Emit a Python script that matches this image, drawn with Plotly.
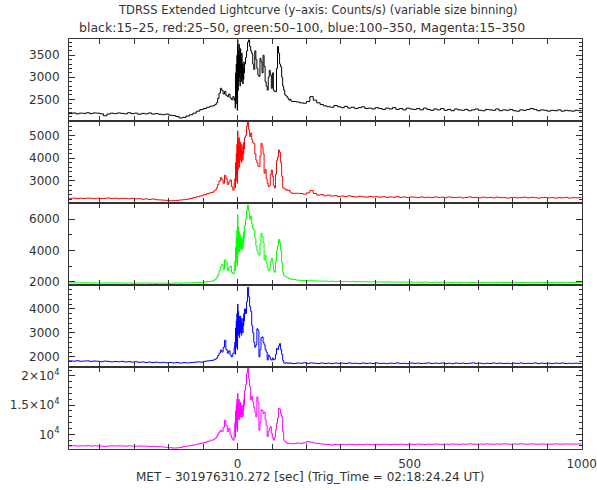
import plotly.graph_objects as go

# ---- time grid (variable size binning) ----
time_s = (list(range(-490, -69, 10)) + list(range(-66, -9, 4)) +
          list(range(-8, 21, 1)) + list(range(23, 159, 3)) +
          list(range(170, 1001, 10)))

black_15_25 = [
    2175, 2190, 2170, 2185, 2180, 2195, 2175, 2190, 2185, 2170,
    2125, 2165, 2185, 2175, 2190, 2180, 2170, 2195, 2175, 2185,
    2160, 2180, 2170, 2190, 2165, 2175, 2160, 2150, 2165, 2140,
    2130, 2110, 2075, 2090, 2120, 2150, 2185, 2230, 2265, 2290,
    2320, 2345, 2360,
    2380, 2420, 2520, 2640, 2750, 2700, 2620, 2680, 2590, 2560, 2620, 2530, 2490, 2560, 2470,
    2520, 2300, 3100, 2400, 3300, 2600, 3500, 2250,
    3850, 2700, 3600, 2900, 3750, 3000, 3500, 2800, 3650, 3100, 3400,
    2900, 3550, 3000, 3300, 2850, 3200, 2950, 3350, 3100, 3300,
    3450, 3600, 3800, 3850, 3700, 3600, 3540, 3300, 3180, 3600,
    3400, 3200, 3050, 3020, 3430, 3350, 3100, 3500, 3250, 2900,
    2800, 2710, 3000, 3160, 3050, 2750, 3100, 2700, 2680, 2670,
    3200, 3700, 3550, 3300, 3240, 3000, 2800, 2710, 2600, 2580,
    2560, 2520, 2480, 2500, 2460, 2450,
    2440, 2420, 2410, 2450, 2560, 2480, 2420, 2380, 2350, 2330,
    2320, 2360, 2330, 2310, 2340, 2300, 2320, 2290, 2310, 2330,
    2290, 2300, 2280, 2310, 2290, 2270, 2300, 2280, 2310, 2270,
    2290, 2260, 2300, 2280, 2270, 2290, 2260, 2300, 2270, 2250,
    2280, 2260, 2290, 2250, 2270, 2240, 2280, 2260, 2250, 2270,
    2240, 2260, 2280, 2250, 2240, 2270, 2260, 2250, 2280, 2240,
    2260, 2250, 2270, 2240, 2230, 2260, 2250, 2270, 2290, 2270,
    2240, 2260, 2250, 2230, 2250, 2240, 2260, 2230, 2250, 2240,
    2230, 2250, 2240, 2250,
]

red_25_50 = [
    2240, 2250, 2230, 2245, 2235, 2250, 2240, 2225, 2245, 2230,
    2240, 2255, 2230, 2245, 2225, 2240, 2230, 2220, 2240, 2215,
    2225, 2200, 2215, 2190, 2210, 2180, 2170, 2160, 2150, 2135,
    2140, 2150, 2165, 2180, 2200, 2230, 2270, 2310, 2350, 2400,
    2450, 2500, 2560,
    2600, 2700, 2850, 3000, 3150, 3050, 2900, 3250, 3100, 2850, 2950, 3050, 2750, 2600, 2900,
    3100, 2700, 3800, 3000, 4200, 3200, 4600, 2900,
    5200, 3500, 4800, 3800, 4900, 3600, 4500, 3900, 4700, 4000, 4400,
    3800, 4600, 4100, 4300, 3900, 4500, 4200, 4700, 4400, 4900,
    5000, 5400, 5600, 5250, 4950, 5100, 4800, 4680, 4650, 4200,
    3920, 3800, 3650, 3630, 4100, 4650, 4500, 4200, 3340, 3500,
    3100, 2900, 2750, 2800, 3300, 3480, 3200, 2800, 2700, 3300,
    3900, 4050, 4360, 4250, 3800, 3200, 2700, 2680, 2650, 2600,
    2620, 2580, 2600, 2520, 2480, 2460,
    2460, 2450, 2420, 2480, 2580, 2450, 2380, 2400, 2350, 2380,
    2340, 2360, 2320, 2340, 2310, 2350, 2320, 2300, 2330, 2310,
    2290, 2320, 2300, 2310, 2290, 2310, 2280, 2300, 2290, 2310,
    2280, 2300, 2270, 2300, 2290, 2270, 2300, 2280, 2290, 2270,
    2300, 2280, 2290, 2270, 2300, 2280, 2270, 2290, 2260, 2280,
    2300, 2270, 2280, 2260, 2290, 2270, 2280, 2260, 2290, 2270,
    2280, 2250, 2270, 2280, 2260, 2270, 2290, 2260, 2280, 2270,
    2250, 2270, 2280, 2260, 2270, 2250, 2270, 2260, 2280, 2250,
    2270, 2260, 2270, 2260,
]

green_50_100 = [
    1920, 1930, 1915, 1925, 1920, 1935, 1915, 1925, 1920, 1910,
    1925, 1915, 1930, 1910, 1920, 1915, 1905, 1920, 1910, 1900,
    1915, 1905, 1920, 1900, 1910, 1895, 1915, 1900, 1910, 1895,
    1905, 1920, 1900, 1915, 1930, 1920, 1940, 1960, 1950, 1980,
    2000, 2030, 2080,
    2150, 2250, 2400, 2700, 2950, 3100, 2800, 3400, 3250, 2700, 2900, 3000, 2600, 2500, 2900,
    3300, 2700, 4200, 3200, 4800, 3500, 5300, 3000,
    6300, 3800, 5500, 4200, 5200, 3900, 4800, 4100, 5000, 4300, 4700,
    4000, 4800, 4300, 4600, 4100, 4900, 4500, 5200, 4800, 5600,
    6000, 6600, 6900, 6500, 6000, 6200, 5700, 5400, 5300, 4800,
    4300, 4000, 3800, 3700, 4400, 5100, 4900, 4500, 3400, 3700,
    3200, 2900, 2700, 2800, 3300, 3500, 3200, 2700, 2600, 3300,
    4000, 4300, 4700, 4500, 4000, 3200, 2600, 2400, 2350, 2300,
    2280, 2250, 2200, 2180, 2150, 2130,
    2100, 2080, 2070, 2060, 2090, 2050, 2040, 2030, 2040, 2020,
    2030, 2010, 2020, 2000, 2015, 1995, 2010, 1990, 2000, 1985,
    2000, 1980, 1995, 1975, 1990, 1970, 1985, 1975, 1965, 1980,
    1960, 1975, 1965, 1980, 1960, 1970, 1955, 1975, 1960, 1950,
    1970, 1955, 1965, 1950, 1960, 1945, 1965, 1950, 1960, 1945,
    1955, 1940, 1960, 1950, 1945, 1960, 1940, 1955, 1945, 1960,
    1940, 1950, 1945, 1960, 1940, 1950, 1945, 1955, 1940, 1950,
    1945, 1960, 1940, 1950, 1945, 1955, 1940, 1950, 1960, 1945,
    1950, 1940, 1955, 1950,
]

blue_100_350 = [
    1830, 1820, 1835, 1815, 1825, 1830, 1810, 1825, 1815, 1800,
    1820, 1810, 1790, 1805, 1795, 1810, 1785, 1800, 1780, 1795,
    1770, 1785, 1765, 1780, 1760, 1775, 1755, 1770, 1750, 1765,
    1745, 1760, 1740, 1755, 1745, 1760, 1770, 1790, 1780, 1810,
    1830, 1850, 1880,
    1900, 1950, 2050, 2150, 2280, 2200, 2400, 2690, 2300, 2150, 2250, 2070, 2000, 2150, 2400,
    2600, 2100, 3200, 2400, 3500, 2600, 3800, 2300,
    4200, 2900, 3900, 3000, 3700, 2800, 3500, 3000, 3700, 3100, 3400,
    2900, 3600, 3200, 3400, 3000, 3600, 3300, 3800, 3500, 4000,
    3800, 4300, 4900, 4500, 4100, 3900, 3300, 3000, 2600, 2400,
    2500, 3170, 3100, 2000, 2300, 2800, 2830, 2600, 2500, 2300,
    2200, 1870, 2070, 2000, 1900, 1860, 1950, 1880, 1900, 2100,
    2350, 2300, 2450, 2550, 2300, 2100, 1850, 1740, 1730, 1760,
    1740, 1720, 1750, 1730, 1740, 1720,
    1740, 1730, 1750, 1725, 1745, 1730, 1720, 1740, 1725, 1735,
    1715, 1740, 1725, 1735, 1720, 1745, 1725, 1730, 1715, 1740,
    1725, 1735, 1720, 1740, 1725, 1730, 1715, 1735, 1725, 1745,
    1720, 1730, 1715, 1740, 1725, 1735, 1720, 1730, 1745, 1720,
    1735, 1725, 1740, 1720, 1730, 1715, 1740, 1725, 1735, 1720,
    1730, 1745, 1725, 1735, 1715, 1730, 1720, 1740, 1725, 1735,
    1720, 1730, 1715, 1735, 1725, 1740, 1720, 1730, 1725, 1740,
    1720, 1735, 1725, 1730, 1715, 1735, 1725, 1740, 1720, 1730,
    1725, 1735, 1720, 1730,
]

magenta_15_350 = [
    8000, 8050, 7980, 8020, 8000, 8060, 7990, 8030, 8010, 7980,
    7900, 7990, 8020, 7990, 8030, 8000, 7970, 8020, 7980, 7960,
    7990, 7950, 7980, 7930, 7960, 7900, 7870, 7820, 7780, 7700,
    7650, 7680, 7750, 7880, 7980, 8080, 8200, 8320, 8450, 8600,
    8800, 9000, 9150,
    9300, 9600, 10000, 10400, 10700, 10500, 11200, 12400, 11500, 10500, 11000, 9900, 9400, 9000, 10500,
    12000, 9500, 14000, 11000, 15000, 12000, 16000, 10500,
    17000, 12500, 15500, 13000, 16000, 12500, 14500, 13000, 15500, 13500, 14500,
    12800, 15000, 13500, 14200, 13000, 15000, 14000, 16000, 15000, 17500,
    18500, 20500, 21300, 19500, 18150, 15900, 16500, 15500, 14600, 13800,
    13000, 16400, 15500, 10700, 12000, 14200, 14100, 13600, 13800, 12500,
    11500, 9600, 10500, 11000, 11300, 10200, 9400, 9000, 9500, 10800,
    11900, 12800, 14450, 14300, 13600, 13000, 10500, 9000, 8800, 8600,
    8460, 8500, 8400, 8450, 8380, 8400,
    8500, 8450, 8550, 8750, 8650, 8500, 8400, 8350, 8300, 8250,
    8170, 8250, 8200, 8280, 8220, 8300, 8240, 8200, 8270, 8230,
    8300, 8250, 8210, 8280, 8240, 8300, 8260, 8220, 8290, 8250,
    8310, 8260, 8230, 8300, 8270, 8330, 8280, 8250, 8320, 8290,
    8340, 8300, 8270, 8330, 8290, 8350, 8310, 8280, 8340, 8300,
    8360, 8320, 8290, 8340, 8310, 8360, 8320, 8300, 8350, 8310,
    8370, 8330, 8300, 8350, 8320, 8370, 8330, 8310, 8360, 8320,
    8300, 8350, 8320, 8340, 8310, 8360, 8330, 8300, 8350, 8320,
    8340, 8310, 8350, 8330,
]

series = [black_15_25, red_25_50, green_50_100, blue_100_350, magenta_15_350]
colors = ["#000000", "#ff0000", "#00ff00", "#0000ff", "#ff00ff"]
for s in series:
    assert len(s) == len(time_s), (len(s), len(time_s))

y_ranges = [[2007, 3870], [2035, 5630], [1786, 7040], [1575, 4995], [7483, 21540]]
y_dtick = [500, 1000, 2000, 1000, 5000]
y_minor = [100, 200, 1000, 200, 1000]
mag_tickvals = [10000, 15000, 20000]
mag_ticktext = ["10<sup>4</sup>", "1.5\u00d710<sup>4</sup>", "2\u00d710<sup>4</sup>"]

FONT = "DejaVu Sans"
AX = "#333333"

fig = go.Figure()
layout = dict(
    width=597, height=490,
    margin=dict(l=69, r=15, t=39, b=41, autoexpand=False),
    paper_bgcolor="white", plot_bgcolor="white",
    showlegend=False,
    font=dict(family=FONT, size=12, color=AX),
)

n = 5
for i in range(n):
    k = "" if i == 0 else str(i + 1)
    fig.add_trace(go.Scatter(
        x=time_s, y=series[i], mode="lines", line_shape="hv",
        line=dict(color=colors[i], width=1),
        xaxis="x" + k, yaxis="y" + k, hoverinfo="skip"))
    top = 1 - i / n
    bot = 1 - (i + 1) / n
    xa = dict(
        range=[-490, 1001], anchor="y" + k, domain=[0, 1], automargin=False,
        showline=True, linecolor=AX, linewidth=1, mirror="allticks",
        ticks="inside", ticklen=6, tickcolor=AX, tickwidth=1,
        tick0=0, dtick=500, showgrid=False, zeroline=False,
        minor=dict(ticks="inside", dtick=100, ticklen=5, tickcolor=AX, showgrid=False),
        showticklabels=(i == n - 1), ticklabelstandoff=4,
        tickfont=dict(family=FONT, size=12, color=AX),
    )
    if i > 0:
        xa["matches"] = "x"
    ya = dict(
        range=y_ranges[i], domain=[bot, top], anchor="x" + k, automargin=False,
        showline=True, linecolor=AX, linewidth=1, mirror="allticks",
        ticks="inside", ticklen=6, tickcolor=AX, tickwidth=1,
        dtick=y_dtick[i], tick0=0, showgrid=False, zeroline=False,
        minor=dict(ticks="inside", dtick=y_minor[i], ticklen=3, tickcolor=AX, showgrid=False),
        ticklabelstandoff=6,
        tickfont=dict(family=FONT, size=12, color=AX),
    )
    if i == n - 1:
        ya.update(tickmode="array", tickvals=mag_tickvals, ticktext=mag_ticktext)
    layout["xaxis" + k] = xa
    layout["yaxis" + k] = ya

title1 = "TDRSS Extended Lightcurve (y\u2013axis: Counts/s) (variable size binning)"
title2 = "black:15\u201325, red:25\u201350, green:50\u2013100, blue:100\u2013350, Magenta:15\u2013350"
xlabel = "MET \u2013 301976310.272 [sec] (Trig_Time = 02:18:24.24 UT)"

layout["annotations"] = [
    dict(text=title1, x=0.485, y=1.07, xref="paper", yref="paper",
         showarrow=False, xanchor="center", yanchor="middle",
         font=dict(family=FONT, size=11.5, color=AX)),
    dict(text=title2, x=0.455, y=1.028, xref="paper", yref="paper",
         showarrow=False, xanchor="center", yanchor="middle",
         font=dict(family=FONT, size=12.5, color=AX)),
    dict(text=xlabel, x=0.47, y=-0.068, xref="paper", yref="paper",
         showarrow=False, xanchor="center", yanchor="middle",
         font=dict(family=FONT, size=12, color=AX)),
]
fig.update_layout(**layout)
# remove the browser's default 8px page margin so the figure fills the window exactly
fig.write_html("out.html",
               config={"displayModeBar": False},
               post_script="document.body.style.margin='0';document.body.style.padding='0';"
                           "document.body.style.overflow='hidden';")
